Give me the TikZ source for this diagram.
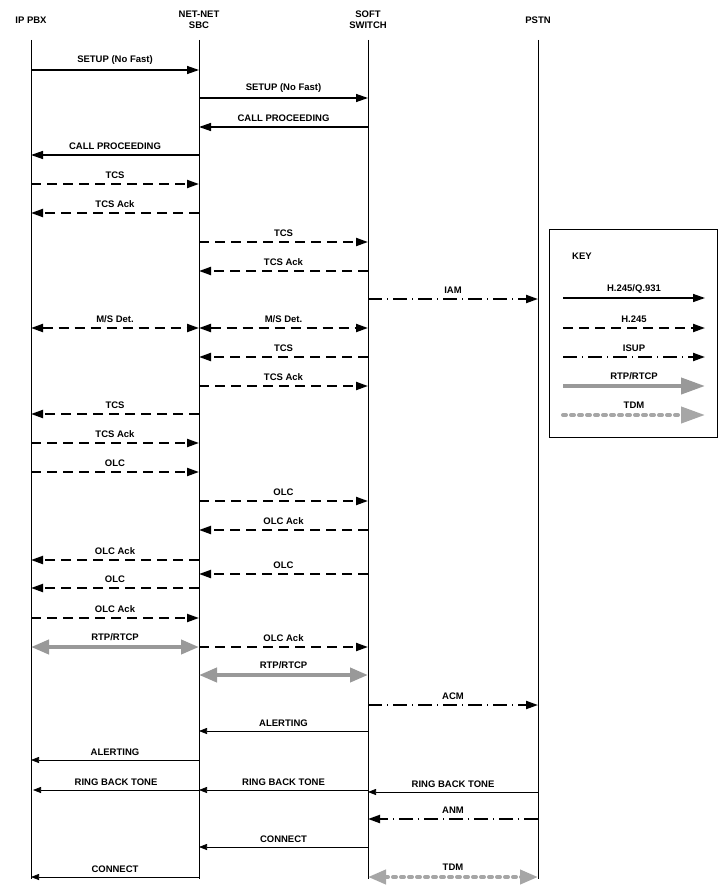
\documentclass[tikz,border=0pt]{standalone}
\usepackage{fontspec}
\setmainfont{Liberation Sans}
\usetikzlibrary{arrows.meta}
\begin{document}
\begin{tikzpicture}[x=1pt,y=-1pt,font=\fontsize{9.5}{11}\selectfont\bfseries,
 life/.style={line width=0.6pt},
 sol/.style={line width=1.4pt,-{Triangle[length=12pt,width=8pt]}},
 thin/.style={line width=0.7pt,-{Triangle[length=8pt,width=6pt]}},
 dsh/.style={line width=2pt,dash pattern=on 10pt off 6pt,-{Triangle[length=12pt,width=8pt]}},
 dd/.style={line width=2pt,dash pattern=on 14pt off 5pt on 1pt off 5pt,-{Triangle[length=12pt,width=8pt]}},
 rtp/.style={line width=4pt,gray!80,{Triangle[length=18pt,width=14pt]}-{Triangle[length=18pt,width=14pt]}},
 tdm/.style={line width=4pt,gray!70,dash pattern=on 3pt off 5pt,line cap=round,{Triangle[length=18pt,width=14pt]}-{Triangle[length=18pt,width=14pt]}},
 lab/.style={above=1pt,midway,text=black}]
\useasboundingbox (0,0) rectangle (720,888);
\node[align=center] (hA) at (31,20) {IP PBX};
\node[align=center] (hB) at (199,20) {NET-NET\\SBC};
\node[align=center] (hC) at (368,20) {SOFT\\SWITCH};
\node[align=center] (hD) at (538,20) {PSTN};
\foreach \n/\x in {A/31,B/199,C/368,D/538}{
 \coordinate (t\n) at (\x,40); \coordinate (b\n) at (\x,879);
 \draw[life] (t\n) -- (b\n);}
\newcommand\msg[5]{\coordinate (s) at (#2,#1); \coordinate (e) at (#3,#1);
 \draw[#4] (s) -- (e) node[lab]{#5};}
\msg{70}{31}{199}{sol}{SETUP (No Fast)}
\msg{98}{199}{368}{sol}{SETUP (No Fast)}
\msg{127}{368}{199}{sol}{CALL PROCEEDING}
\msg{155}{199}{31}{sol}{CALL PROCEEDING}
\msg{184}{31}{199}{dsh}{TCS}
\msg{213}{199}{31}{dsh}{TCS Ack}
\msg{242}{199}{368}{dsh}{TCS}
\msg{271}{368}{199}{dsh}{TCS Ack}
\msg{299}{368}{538}{dd}{IAM}
\msg{328}{31}{199}{dsh,{Triangle[length=12pt,width=8pt]}-{Triangle[length=12pt,width=8pt]}}{M/S Det.}
\msg{328}{199}{368}{dsh,{Triangle[length=12pt,width=8pt]}-{Triangle[length=12pt,width=8pt]}}{M/S Det.}
\msg{357}{368}{199}{dsh}{TCS}
\msg{386}{199}{368}{dsh}{TCS Ack}
\msg{414}{199}{31}{dsh}{TCS}
\msg{443}{31}{199}{dsh}{TCS Ack}
\msg{472}{31}{199}{dsh}{OLC}
\msg{501}{199}{368}{dsh}{OLC}
\msg{530}{368}{199}{dsh}{OLC Ack}
\msg{560}{199}{31}{dsh}{OLC Ack}
\msg{574}{368}{199}{dsh}{OLC}
\msg{588}{199}{31}{dsh}{OLC}
\msg{618}{31}{199}{dsh}{OLC Ack}
\msg{647}{31}{199}{rtp}{RTP/RTCP}
\msg{647}{199}{368}{dsh}{OLC Ack}
\msg{675}{199}{368}{rtp}{RTP/RTCP}
\msg{705}{368}{538}{dd}{ACM}
\msg{731}{368}{199}{thin}{ALERTING}
\msg{760}{199}{31}{thin}{ALERTING}
\msg{790}{199}{33}{thin}{RING BACK TONE}
\msg{790}{368}{199}{thin}{RING BACK TONE}
\msg{792}{538}{368}{thin}{RING BACK TONE}
\msg{819}{538}{368}{dd}{ANM}
\msg{847}{368}{199}{thin}{CONNECT}
\msg{877}{199}{31}{thin}{CONNECT}
\msg{877}{368}{538}{tdm}{TDM}
% key
\node[draw,line width=0.6pt,minimum width=168pt,minimum height=208pt] (key) at (633,333) {};
\node (kt) at (582,256) {KEY};
\msg{298}{563}{705}{sol}{H.245/Q.931}
\msg{328}{563}{705}{dsh}{H.245}
\msg{357}{563}{705}{dd}{ISUP}
\msg{386}{563}{705}{rtp,-{Triangle[length=24pt,width=16pt]}}{RTP/RTCP}
\msg{415}{563}{705}{tdm,-{Triangle[length=24pt,width=16pt]}}{TDM}
\end{tikzpicture}
\end{document}
